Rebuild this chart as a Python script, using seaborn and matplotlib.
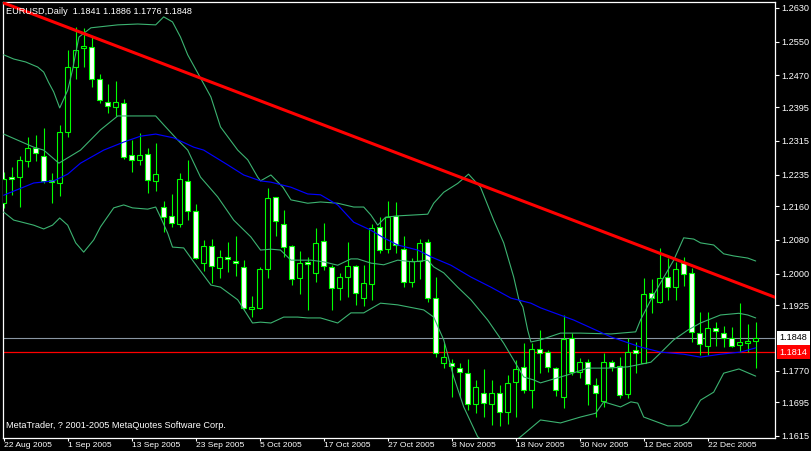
import matplotlib
matplotlib.use("Agg")
import matplotlib.pyplot as plt
import matplotlib.transforms as mtransforms
import numpy as np
import seaborn as sns

# EURUSD daily bars, 22 Aug 2005 .. 30 Dec 2005
opens = [1.2167, 1.2229, 1.2230, 1.2268, 1.2297, 1.2279, 1.2222, 1.2214, 1.2337, 1.2491,
         1.2534, 1.2538, 1.2461, 1.2408, 1.2396, 1.2404, 1.2281, 1.2270, 1.2284, 1.2220,
         1.2158, 1.2137, 1.2118, 1.2220, 1.2149, 1.2025, 1.2066, 1.2013, 1.2039, 1.2031,
         1.2016, 1.1916, 1.1919, 1.2010, 1.2181, 1.2118, 1.2066, 1.1989, 1.2028, 1.2002,
         1.2077, 1.2016, 1.1965, 1.1993, 1.2018, 1.1942, 1.1975, 1.2110, 1.2058, 1.2137,
         1.2058, 1.1980, 1.2031, 1.2074, 1.1942, 1.1787, 1.1787, 1.1777, 1.1764, 1.1691,
         1.1718, 1.1691, 1.1718, 1.1671, 1.1742, 1.1778, 1.1724, 1.1821, 1.1815, 1.1776,
         1.1707, 1.1847, 1.1766, 1.1790, 1.1736, 1.1699, 1.1790, 1.1781, 1.1715, 1.1819,
         1.1787, 1.1953, 1.1933, 1.1991, 1.1968, 1.2025, 1.2002, 1.1859, 1.1829, 1.1870,
         1.1859, 1.1848, 1.1831, 1.1835, 1.1841]
highs = [1.2242, 1.2254, 1.2279, 1.2324, 1.2329, 1.2345, 1.2239, 1.2353, 1.2530, 1.2586,
         1.2583, 1.2562, 1.2473, 1.2450, 1.2458, 1.2414, 1.2317, 1.2333, 1.2298, 1.2309,
         1.2173, 1.2189, 1.2238, 1.2270, 1.2165, 1.2080, 1.2082, 1.2056, 1.2074, 1.2089,
         1.2032, 1.1947, 1.2016, 1.2202, 1.2182, 1.2151, 1.2068, 1.2054, 1.2039, 1.2108,
         1.2119, 1.2021, 1.2001, 1.2076, 1.2020, 1.2021, 1.2118, 1.2135, 1.2172, 1.2169,
         1.2089, 1.2036, 1.2081, 1.2081, 1.1993, 1.1835, 1.1797, 1.1789, 1.1797, 1.1748,
         1.1773, 1.1748, 1.1736, 1.1760, 1.1795, 1.1835, 1.1836, 1.1866, 1.1819, 1.1779,
         1.1902, 1.1860, 1.1801, 1.1797, 1.1752, 1.1811, 1.1795, 1.1803, 1.1847, 1.1839,
         1.1989, 1.1987, 1.2060, 1.2038, 1.2028, 1.2039, 1.2013, 1.1910, 1.1910, 1.1886,
         1.1876, 1.1874, 1.1930, 1.1881, 1.1886]
lows = [1.2155, 1.2187, 1.2159, 1.2254, 1.2268, 1.2215, 1.2168, 1.2185, 1.2324, 1.2462,
        1.2491, 1.2442, 1.2405, 1.2380, 1.2374, 1.2272, 1.2242, 1.2258, 1.2191, 1.2197,
        1.2099, 1.2111, 1.2111, 1.2127, 1.2035, 1.2007, 1.1977, 1.1990, 1.2005, 1.1994,
        1.1916, 1.1898, 1.1916, 1.1990, 1.2089, 1.2039, 1.1973, 1.1952, 1.1914, 1.1981,
        1.2009, 1.1914, 1.1938, 1.1945, 1.1926, 1.1923, 1.1938, 1.2048, 1.2048, 1.2048,
        1.1968, 1.1969, 1.1987, 1.1933, 1.1802, 1.1776, 1.1707, 1.1708, 1.1677, 1.1669,
        1.1661, 1.1641, 1.1639, 1.1643, 1.1661, 1.1718, 1.1681, 1.1764, 1.1767, 1.1711,
        1.1681, 1.1760, 1.1752, 1.1689, 1.1659, 1.1684, 1.1770, 1.1704, 1.1704, 1.1764,
        1.1787, 1.1906, 1.1930, 1.1938, 1.1938, 1.1971, 1.1839, 1.1807, 1.1807, 1.1829,
        1.1827, 1.1827, 1.1815, 1.1815, 1.1776]
closes = [1.2224, 1.2224, 1.2270, 1.2298, 1.2287, 1.2220, 1.2217, 1.2337, 1.2491, 1.2530,
          1.2541, 1.2461, 1.2412, 1.2398, 1.2407, 1.2277, 1.2270, 1.2281, 1.2222, 1.2236,
          1.2135, 1.2120, 1.2224, 1.2149, 1.2036, 1.2066, 1.2018, 1.2040, 1.2034, 1.2025,
          1.1919, 1.1921, 1.2011, 1.2179, 1.2126, 1.2064, 1.1987, 1.2026, 1.2022, 1.2072,
          1.2018, 1.1965, 1.1993, 1.2018, 1.1953, 1.1977, 1.2108, 1.2056, 1.2135, 1.2068,
          1.1980, 1.2031, 1.2072, 1.1942, 1.1813, 1.1802, 1.1781, 1.1766, 1.1691, 1.1732,
          1.1693, 1.1718, 1.1671, 1.1740, 1.1773, 1.1724, 1.1821, 1.1811, 1.1779, 1.1724,
          1.1844, 1.1766, 1.1790, 1.1738, 1.1718, 1.1791, 1.1779, 1.1712, 1.1815, 1.1811,
          1.1952, 1.1942, 1.1989, 1.1969, 1.2010, 1.1998, 1.1862, 1.1832, 1.1870, 1.1865,
          1.1847, 1.1828, 1.1837, 1.1840, 1.1848]

# Bollinger bands (upper / middle / lower), read at bar positions
ub_x = [0, 1.25, 2.75, 4.25, 5, 5.6, 6.25, 7, 8, 8.6, 9.4, 10.9, 14.25, 16.75, 19, 20, 21.1,
        22.1, 23, 24.6, 25.9, 27.1, 29.25, 30.5, 31.75, 32.1, 33.4, 34.9, 35.9, 38, 39.6,
        41.75, 43.75, 45, 45.9, 46.75, 47.75, 49.25, 53, 53.75, 55, 56.75, 58.1, 59.6, 61.25,
        62.5, 63.75, 64.4, 64.9, 65.5, 65.9, 67.1, 69.6, 72.1, 75.9, 79, 79.6, 80.9, 82.1,
        83.75, 85, 86.25, 87.1, 88.75, 90, 91.25, 93, 94]
ub_y = [1.2519, 1.2509, 1.2502, 1.2490, 1.2478, 1.2454, 1.2431, 1.2393, 1.2435, 1.2483,
        1.2561, 1.2583, 1.2590, 1.2592, 1.2590, 1.2609, 1.2597, 1.2561, 1.2519, 1.2464,
        1.2419, 1.2348, 1.2293, 1.2270, 1.2229, 1.2220, 1.2234, 1.2205, 1.2175, 1.2167,
        1.2170, 1.2167, 1.2158, 1.2158, 1.2139, 1.2115, 1.2134, 1.2137, 1.2141, 1.2167,
        1.2193, 1.2214, 1.2236, 1.2205, 1.2127, 1.2073, 1.1992, 1.1938, 1.1921, 1.1866,
        1.1838, 1.1843, 1.1859, 1.1859, 1.1857, 1.1862, 1.1890, 1.1938, 1.1978, 1.2032,
        1.2085, 1.2082, 1.2073, 1.2068, 1.2047, 1.2042, 1.2037, 1.2030]
mb_x = [0, 3.75, 5, 6.9, 9.6, 12.1, 14.25, 19, 20, 21.75, 23, 24.6, 26.75, 28.75, 30.9, 32.1,
        33.4, 34.6, 35.9, 38.4, 40, 41.75, 43.4, 44.25, 45.9, 47.5, 49.25, 51.25, 53, 53.75,
        55, 56.75, 58.4, 60.5, 62.5, 63.75, 65, 66.25, 67.1, 70.5, 73, 75.5, 78, 80.9, 82.1,
        83.75, 85.5, 87.1, 89.6, 91.9, 93, 94]
mb_y = [1.2331, 1.2300, 1.2293, 1.2262, 1.2293, 1.2341, 1.2374, 1.2374, 1.2353, 1.2317,
        1.2293, 1.2229, 1.2182, 1.2127, 1.2087, 1.2056, 1.2058, 1.2056, 1.2032, 1.2032,
        1.2028, 1.2020, 1.2035, 1.2035, 1.2025, 1.2021, 1.2032, 1.2028, 1.2032, 1.2016,
        1.2002, 1.1968, 1.1938, 1.1890, 1.1835, 1.1795, 1.1755, 1.1748, 1.1741, 1.1760,
        1.1776, 1.1776, 1.1779, 1.1790, 1.1812, 1.1843, 1.1866, 1.1883, 1.1902, 1.1906,
        1.1902, 1.1895]
lb_x = [0, 1.25, 2.1, 3.75, 5, 6.1, 7, 8, 9, 10, 11.25, 12.1, 13.75, 15, 16.1, 18, 19, 19.6,
        20.5, 21.1, 22.5, 23.75, 25.9, 27.1, 29.25, 31.1, 32.1, 33.4, 35, 36.75, 38, 39.6,
        41.75, 43.4, 45, 47.1, 49.25, 52.5, 53.75, 55, 56.25, 57.5, 59.25, 60.9, 62.75, 64.6,
        67.1, 69.6, 72.1, 74, 75, 77.1, 78.4, 79.25, 80, 83, 84.6, 85.5, 87.1, 88.75, 90,
        91.9, 94]
lb_y = [1.2146, 1.2127, 1.2123, 1.2115, 1.2106, 1.2115, 1.2132, 1.2115, 1.2073, 1.2051,
        1.2080, 1.2111, 1.2156, 1.2163, 1.2156, 1.2153, 1.2158, 1.2134, 1.2096, 1.2063,
        1.2061, 1.2028, 1.1973, 1.1968, 1.1938, 1.1883, 1.1885, 1.1883, 1.1897, 1.1897,
        1.1895, 1.1895, 1.1883, 1.1907, 1.1907, 1.1930, 1.1926, 1.1914, 1.1897, 1.1843,
        1.1755, 1.1684, 1.1613, 1.1589, 1.1587, 1.1613, 1.1653, 1.1646, 1.1660, 1.1669,
        1.1696, 1.1684, 1.1696, 1.1693, 1.1660, 1.1639, 1.1639, 1.1648, 1.1700, 1.1719,
        1.1764, 1.1774, 1.1757]

# blue moving average
ma_x = [0, 3.75, 6.25, 8, 9.6, 12.5, 15, 17.1, 19, 21.25, 23.75, 25, 28, 30, 32.1, 33.4, 35.9,
        38, 39.6, 41.75, 43.75, 45.9, 47.5, 49.25, 51.75, 53.4, 55.9, 58.4, 60.9, 63.4, 65.9,
        67.1, 71.25, 75.9, 79.6, 82.1, 85, 87.1, 89.6, 92.1, 94]
ma_y = [1.2186, 1.2215, 1.2220, 1.2236, 1.2262, 1.2293, 1.2312, 1.2326, 1.2331, 1.2322,
        1.2300, 1.2293, 1.2258, 1.2234, 1.2220, 1.2217, 1.2205, 1.2189, 1.2187, 1.2163,
        1.2122, 1.2103, 1.2085, 1.2068, 1.2056, 1.2040, 1.2020, 1.1992, 1.1968, 1.1942,
        1.1930, 1.1919, 1.1890, 1.1850, 1.1826, 1.1814, 1.1809, 1.1802, 1.1809, 1.1814,
        1.1824]

trend_x = [0, 96]
trend_y = [1.2642, 1.1947]
red_level = 1.1814
bid_level = 1.1848

y_ticks = [1.2630, 1.2550, 1.2470, 1.2395, 1.2315, 1.2235, 1.2160, 1.2080, 1.2000,
           1.1925, 1.1770, 1.1695, 1.1615]
date_pos = [0, 8, 16, 24, 32, 40, 48, 56, 64, 72, 80, 88]
date_labels = ['22 Aug 2005', '1 Sep 2005', '13 Sep 2005', '23 Sep 2005', '5 Oct 2005',
               '17 Oct 2005', '27 Oct 2005', '8 Nov 2005', '18 Nov 2005', '30 Nov 2005',
               '12 Dec 2005', '22 Dec 2005']

sns.set_theme(style='dark', rc={'axes.facecolor': 'black', 'figure.facecolor': 'black'})
plt.rcParams['font.family'] = ['Liberation Sans', 'DejaVu Sans']
fs = 6.6

W, H = 811, 451
fig = plt.figure(figsize=(W / 100, H / 100), dpi=100)
l, r, t, b = 2.7, 775.0, 2.3, 438.3
ax = fig.add_axes([l / W, 1 - b / H, (r - l) / W, (b - t) / H])
ax.set_facecolor('black')

idx = np.arange(len(opens))
o = np.array(opens); c = np.array(closes)
hi = np.array(highs); lo = np.array(lows)
bull = c >= o
green = '#00ff00'

# candles
ax.vlines(idx, lo, hi, color=green, lw=0.8, zorder=2)
body_h = np.maximum(np.abs(c - o), 0.00005)
ax.bar(idx, body_h, bottom=np.minimum(o, c), width=0.62,
       color=np.where(bull, 'black', 'white'), edgecolor=green, linewidth=0.8, zorder=3)

# indicators
band_col = '#3cb371'
for xs, ys in [(ub_x, ub_y), (mb_x, mb_y), (lb_x, lb_y)]:
    sns.lineplot(x=xs, y=ys, ax=ax, color=band_col, lw=0.8, sort=False,
                 estimator=None, zorder=4)
sns.lineplot(x=ma_x, y=ma_y, ax=ax, color='#0000ff', lw=0.85, sort=False,
             estimator=None, zorder=4)

ax.axline((trend_x[0], trend_y[0]), (trend_x[1], trend_y[1]), color='#ff0000', lw=2.2,
          zorder=5)
ax.axhline(bid_level, color='#8a96a3', lw=0.8, zorder=1)
ax.axhline(red_level, color='#ff0000', lw=0.9, zorder=1)

# axes limits: bar i sits at pixel 3.7 + 8 i
px2i = lambda px: (px - 3.7) / 8
px2p = lambda py: 1.264897 - 0.00023715 * py
ax.set_xlim(px2i(l), px2i(r))
ax.set_ylim(px2p(b), px2p(t))

for s in ax.spines.values():
    s.set_color('white')
    s.set_linewidth(0.9)
    s.set_visible(True)

ax.yaxis.tick_right()
ax.set_yticks(y_ticks)
ax.set_yticklabels([f'{v:.4f}' for v in y_ticks])
ax.tick_params(axis='y', colors='white', labelcolor='white', labelsize=fs, length=3,
               width=0.8, pad=1.5, direction='out', right=True, left=False)
ax.set_xticks(date_pos)
ax.set_xticklabels(date_labels, ha='left')
ax.tick_params(axis='x', colors='white', labelcolor='white', labelsize=6.1, length=2.5,
               width=0.8, pad=0, direction='out', bottom=True)
ax.set_xlabel('')
ax.set_ylabel('')
ax.grid(False)

# price boxes on the right
tr = mtransforms.blended_transform_factory(ax.transAxes, ax.transData)
ax.text(1.006, bid_level, f'{bid_level:.4f}', transform=tr, ha='left', va='center',
        fontsize=fs, color='black', clip_on=False,
        bbox=dict(boxstyle='square,pad=0.25', fc='white', ec='none'))
ax.text(1.006, red_level, f'{red_level:.4f}', transform=tr, ha='left', va='center',
        fontsize=fs, color='white', clip_on=False,
        bbox=dict(boxstyle='square,pad=0.25', fc='#ff0000', ec='none'))

fig.text(6 / W, 1 - 11 / H,
         'EURUSD,Daily  %.4f %.4f %.4f %.4f' % (opens[-1], highs[-1], lows[-1], closes[-1]),
         color='white', fontsize=fs, va='center', ha='left')
fig.text(6 / W, 1 - 426 / H, 'MetaTrader, ? 2001-2005 MetaQuotes Software Corp.',
         color='white', fontsize=fs, va='center', ha='left')

fig.savefig('out.png', dpi=100, facecolor='black')
